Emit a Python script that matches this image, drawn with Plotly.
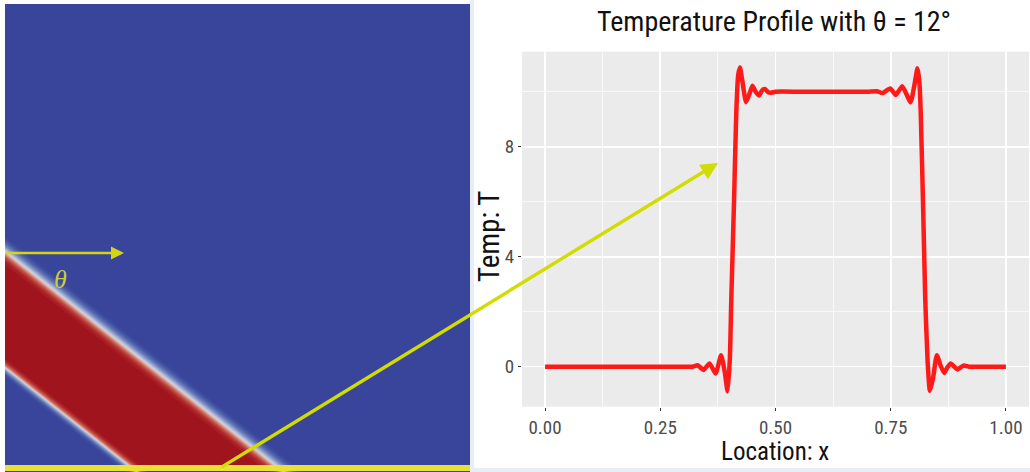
import math
import plotly.graph_objects as go

# ---------------- data ----------------
location_x = [0.00, 0.05, 0.10, 0.15, 0.20, 0.25, 0.30, 0.320, 0.331, 0.344, 0.357,
              0.370, 0.382, 0.390, 0.396, 0.401, 0.404, 0.410, 0.415, 0.419, 0.423,
              0.428, 0.436, 0.443, 0.450, 0.457, 0.464, 0.471, 0.477, 0.484, 0.490,
              0.50, 0.55, 0.60, 0.65, 0.70, 0.720, 0.732, 0.749, 0.761, 0.775,
              0.793, 0.802, 0.808, 0.812, 0.815, 0.820, 0.825, 0.830, 0.835, 0.842,
              0.850, 0.858, 0.866, 0.873, 0.880, 0.888, 0.895, 0.902, 0.909, 0.92,
              0.95, 1.00]
temp_T = [0.0, 0.0, 0.0, 0.0, 0.0, 0.0, 0.0, 0.0, 0.05, -0.12, 0.12,
          -0.25, 0.42, -0.2, -0.9, 0.3, 2.4, 6.0, 9.3, 10.6, 10.88,
          10.4, 9.62, 9.9, 10.22, 10.0, 9.86, 10.05, 10.1, 9.98, 9.96,
          10.0, 10.0, 10.0, 10.0, 10.0, 10.02, 9.95, 10.12, 9.88, 10.2,
          9.62, 10.3, 10.85, 10.4, 9.3, 6.0, 2.4, 0.2, -0.88, -0.4,
          0.42, 0.05, -0.23, -0.02, 0.12, 0.0, -0.1, -0.02, 0.04, 0.0,
          0.0, 0.0]
x_ticks = [0.0, 0.25, 0.5, 0.75, 1.0]
x_tick_labels = ["0.00", "0.25", "0.50", "0.75", "1.00"]
y_ticks = [0, 4, 8]
y_tick_labels = ["0", "4", "8"]
theta_deg = 12

W, H = 1030, 472


def px(x):
    return x / W


def py(y):
    return 1 - y / H


FONT = "Liberation Sans Narrow, Roboto Condensed, Roboto, Liberation Sans, Arial"

fig = go.Figure()
fig.add_trace(go.Scatter(
    x=location_x, y=temp_T, mode="lines",
    line=dict(color="#FF1A1A", width=4.5, shape="spline", smoothing=0.5),
    hoverinfo="skip", showlegend=False))

# ---------------- left illustration (shapes) ----------------
shapes = []
shapes.append(dict(type="rect", xref="paper", yref="paper", layer="below",
                   x0=px(5), x1=px(470), y0=py(472), y1=py(4),
                   fillcolor="#38459A", line=dict(width=0)))

# band geometry (pixel space)
dx, dy = 268.0, 212.0
L = math.hypot(dx, dy)
d = (dx / L, dy / L)
n = (d[1], -d[0])  # outward normal of upper edge
Pu = (5.0, 253.0)
Pl = (5.0, 367.0)


def band_path(u, l):
    A = (Pu[0] + u * n[0] - 200 * d[0], Pu[1] + u * n[1] - 200 * d[1])
    B = (Pu[0] + u * n[0] + 500 * d[0], Pu[1] + u * n[1] + 500 * d[1])
    C = (Pl[0] - l * n[0] + 500 * d[0], Pl[1] - l * n[1] + 500 * d[1])
    D = (Pl[0] - l * n[0] - 200 * d[0], Pl[1] - l * n[1] - 200 * d[1])
    pts = [A, B, C, D]
    return "M " + " L ".join(f"{px(p[0]):.5f},{py(p[1]):.5f}" for p in pts) + " Z"


# (upper offset, lower offset, colour): outermost first
layers = [
    (13, 8, "#3C4A9E"),
    (11, 6.5, "#4455A4"),
    (9.2, 5.2, "#5064AC"),
    (7.6, 4.2, "#6275B6"),
    (6.2, 3.4, "#7889C0"),
    (4.9, 2.6, "#919FCC"),
    (3.7, 1.9, "#AAB5D6"),
    (2.6, 1.2, "#C3C8DC"),
    (1.6, 0.6, "#D6CDD4"),
    (0.6, 0.0, "#DCB0A8"),
    (-0.5, -0.7, "#D48A7E"),
    (-1.7, -1.5, "#CA6558"),
    (-3.0, -2.5, "#BE463E"),
    (-4.6, -3.8, "#B22E2E"),
    (-6.5, -5, "#A81E25"),
    (-9, -6.5, "#A0141E"),
]
for u, l, c in layers:
    shapes.append(dict(type="path", xref="paper", yref="paper", layer="below",
                       path=band_path(u, l), fillcolor=c, line=dict(width=0)))

# white margins around the illustration
shapes.append(dict(type="rect", xref="paper", yref="paper", layer="below",
                   x0=0, x1=px(5), y0=0, y1=1, fillcolor="white", line=dict(width=0)))
shapes.append(dict(type="rect", xref="paper", yref="paper", layer="below",
                   x0=0, x1=px(470), y0=py(3), y1=1, fillcolor="white", line=dict(width=0)))
shapes.append(dict(type="rect", xref="paper", yref="paper", layer="below",
                   x0=px(470), x1=px(510), y0=py(465), y1=py(0), fillcolor="white",
                   line=dict(width=0)))
# light border of chart image
shapes.append(dict(type="rect", xref="paper", yref="paper", layer="below",
                   x0=px(470), x1=px(474), y0=0, y1=1, fillcolor="#E8EEF6", line=dict(width=0)))
shapes.append(dict(type="rect", xref="paper", yref="paper", layer="below",
                   x0=px(470), x1=1, y0=0, y1=py(468), fillcolor="#E8EEF6", line=dict(width=0)))
# yellow bottom bar
shapes.append(dict(type="rect", xref="paper", yref="paper", layer="below",
                   x0=px(5), x1=px(470), y0=py(471), y1=py(465),
                   fillcolor="#E8E232", line=dict(width=0)))

annotations = [
    dict(text=f"Temperature Profile with θ = {theta_deg}°", xref="paper", yref="paper",
         x=px(774), y=py(22), showarrow=False, xanchor="center", yanchor="middle",
         font=dict(family=FONT, size=28, color="#111111")),
    dict(text="Location: x", xref="paper", yref="paper",
         x=px(775), y=py(451), showarrow=False, xanchor="center", yanchor="middle",
         font=dict(family=FONT, size=25, color="#111111")),
    dict(text="Temp: T", xref="paper", yref="paper", textangle=-90,
         x=px(489), y=py(237), showarrow=False, xanchor="center", yanchor="middle",
         font=dict(family=FONT, size=29, color="#111111")),
    dict(text="<i>θ</i>", xref="paper", yref="paper",
         x=px(60), y=py(279), showarrow=False, xanchor="center", yanchor="middle",
         font=dict(family="Liberation Serif, DejaVu Serif", size=26, color="#CACC3E")),
    # horizontal arrow
    dict(text="", xref="paper", yref="paper", x=px(124), y=py(253),
         ax=-119, ay=0, axref="pixel", ayref="pixel", showarrow=True,
         arrowhead=2, arrowsize=1.0, arrowwidth=2.6, arrowcolor="#D4D612", standoff=0),
    # long slanted arrow
    dict(text="", xref="paper", yref="paper", x=px(718), y=py(163),
         ax=-498, ay=305, axref="pixel", ayref="pixel", showarrow=True,
         arrowhead=2, arrowsize=1.0, arrowwidth=3.4, arrowcolor="#D2DC00", standoff=0),
]

fig.update_layout(
    width=W, height=H, autosize=False,
    margin=dict(l=0, r=0, t=0, b=0),
    paper_bgcolor="white", plot_bgcolor="#EBEBEB",
    shapes=shapes, annotations=annotations,
    showlegend=False,
    xaxis=dict(domain=[px(522), px(1029)], range=[-0.05, 1.05],
               tickvals=x_ticks, ticktext=x_tick_labels,
               showgrid=True, gridcolor="white", gridwidth=1.6, zeroline=False,
               ticks="outside", ticklen=3, tickcolor="#333333", tickwidth=1,
               tickfont=dict(family=FONT, size=19, color="#4D4D4D"),
               minor=dict(tickvals=[0.125, 0.375, 0.625, 0.875], showgrid=True,
                          gridcolor="white", gridwidth=0.7, ticks=""),
               showline=False, fixedrange=True),
    yaxis=dict(domain=[py(406.7), py(51.7)], range=[-1.455, 11.455],
               tickvals=y_ticks, ticktext=y_tick_labels,
               showgrid=True, gridcolor="white", gridwidth=1.6, zeroline=False,
               ticks="outside", ticklen=3, tickcolor="#333333", tickwidth=1,
               tickfont=dict(family=FONT, size=19, color="#4D4D4D"),
               minor=dict(tickvals=[2, 6, 10], showgrid=True,
                          gridcolor="white", gridwidth=0.7, ticks=""),
               showline=False, fixedrange=True),
)

fig.write_html("out.html", config={"displayModeBar": False, "staticPlot": True},
               post_script="document.body.style.margin='0px';document.body.style.padding='0px';")
